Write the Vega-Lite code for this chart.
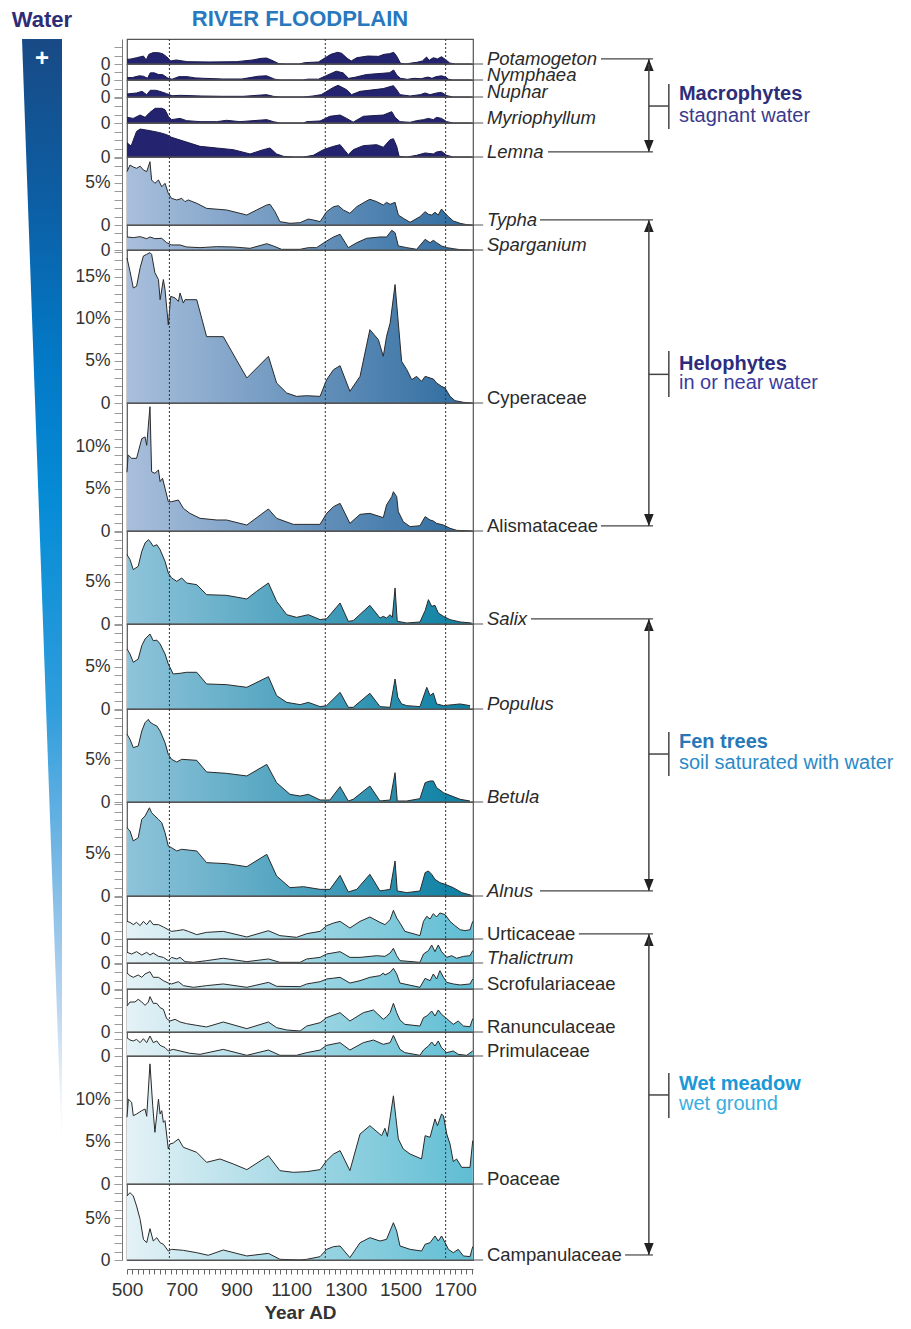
{
"$schema": "https://vega.github.io/schema/vega-lite/v6.json",
"background": "white",
"padding": {"left": 11, "top": 7, "right": 0, "bottom": 0},
"config": {
 "font": "Liberation Sans",
 "view": {"stroke": "#555", "strokeWidth": 1.2},
 "axis": {"grid": false, "labelFont": "Liberation Sans", "titleFont": "Liberation Sans"}
},
"datasets": {
 "one": [{"k": 1}],
 "zones": [{"year": 655}, {"year": 1225}, {"year": 1665}],
 "water": [{"level": 1, "amount": 1}, {"level": 0, "amount": 0}],
 "Potamogeton": [{"year":500,"pct":0.55},{"year":515,"pct":0.6},{"year":535,"pct":0.75},{"year":550,"pct":0.87},{"year":560,"pct":0.95},{"year":570,"pct":0.48},{"year":580,"pct":1.15},{"year":595,"pct":1.35},{"year":615,"pct":1.35},{"year":630,"pct":1.23},{"year":645,"pct":0.87},{"year":660,"pct":0.36},{"year":680,"pct":0.48},{"year":720,"pct":0.28},{"year":800,"pct":0.24},{"year":900,"pct":0.28},{"year":960,"pct":0.48},{"year":990,"pct":0.67},{"year":1010,"pct":0.71},{"year":1030,"pct":0.44},{"year":1055,"pct":0.04},{"year":1080,"pct":0},{"year":1130,"pct":0},{"year":1150,"pct":0.16},{"year":1200,"pct":0.24},{"year":1225,"pct":0.75},{"year":1245,"pct":1.15},{"year":1270,"pct":1.39},{"year":1285,"pct":1.27},{"year":1305,"pct":0.67},{"year":1320,"pct":0.36},{"year":1340,"pct":0.75},{"year":1380,"pct":0.95},{"year":1420,"pct":0.91},{"year":1440,"pct":1.15},{"year":1460,"pct":1.23},{"year":1475,"pct":1.39},{"year":1485,"pct":0.99},{"year":1500,"pct":0.08},{"year":1520,"pct":0},{"year":1540,"pct":0.12},{"year":1560,"pct":0.2},{"year":1580,"pct":0.36},{"year":1595,"pct":0.83},{"year":1605,"pct":0.44},{"year":1620,"pct":0.75},{"year":1635,"pct":0.6},{"year":1650,"pct":0.87},{"year":1665,"pct":0.52},{"year":1680,"pct":0.12},{"year":1700,"pct":0},{"year":1760,"pct":0}],
 "Nymphaea": [{"year":500,"pct":0.28},{"year":520,"pct":0.3},{"year":545,"pct":0.5},{"year":560,"pct":0.45},{"year":575,"pct":0.2},{"year":585,"pct":0.85},{"year":600,"pct":0.85},{"year":615,"pct":0.65},{"year":630,"pct":0.65},{"year":650,"pct":0.2},{"year":665,"pct":0.1},{"year":690,"pct":0.4},{"year":720,"pct":0.4},{"year":750,"pct":0.25},{"year":780,"pct":0.2},{"year":850,"pct":0.12},{"year":920,"pct":0.12},{"year":980,"pct":0.45},{"year":1010,"pct":0.5},{"year":1040,"pct":0.1},{"year":1060,"pct":0},{"year":1145,"pct":0},{"year":1160,"pct":0.1},{"year":1200,"pct":0.1},{"year":1230,"pct":0.55},{"year":1265,"pct":1.05},{"year":1290,"pct":0.85},{"year":1310,"pct":0.2},{"year":1330,"pct":0.3},{"year":1375,"pct":0.65},{"year":1435,"pct":0.8},{"year":1460,"pct":0.87},{"year":1475,"pct":1.19},{"year":1487,"pct":0.55},{"year":1500,"pct":0.2},{"year":1525,"pct":0.08},{"year":1550,"pct":0.2},{"year":1575,"pct":0.15},{"year":1600,"pct":0.35},{"year":1615,"pct":0.2},{"year":1630,"pct":0.4},{"year":1650,"pct":0.5},{"year":1665,"pct":0.35},{"year":1675,"pct":0.1},{"year":1690,"pct":0},{"year":1760,"pct":0}],
 "Nuphar": [{"year":500,"pct":0.36},{"year":535,"pct":0.48},{"year":555,"pct":0.67},{"year":572,"pct":0.28},{"year":585,"pct":0.8},{"year":605,"pct":0.8},{"year":620,"pct":0.67},{"year":645,"pct":0.4},{"year":665,"pct":0.15},{"year":695,"pct":0.2},{"year":770,"pct":0.12},{"year":850,"pct":0.08},{"year":925,"pct":0.08},{"year":1010,"pct":0.28},{"year":1035,"pct":0.08},{"year":1060,"pct":0},{"year":1145,"pct":0},{"year":1180,"pct":0.12},{"year":1210,"pct":0.28},{"year":1255,"pct":1.15},{"year":1272,"pct":1.39},{"year":1303,"pct":0.87},{"year":1321,"pct":0.28},{"year":1352,"pct":0.67},{"year":1437,"pct":1.0},{"year":1474,"pct":1.35},{"year":1486,"pct":0.87},{"year":1498,"pct":0.28},{"year":1535,"pct":0.12},{"year":1572,"pct":0.28},{"year":1590,"pct":0.48},{"year":1608,"pct":0.28},{"year":1632,"pct":0.48},{"year":1650,"pct":0.55},{"year":1670,"pct":0.15},{"year":1693,"pct":0},{"year":1760,"pct":0}],
 "Myriophyllum": [{"year":500,"pct":0.67},{"year":523,"pct":0.55},{"year":548,"pct":0.95},{"year":566,"pct":0.67},{"year":584,"pct":1.27},{"year":603,"pct":1.75},{"year":627,"pct":1.75},{"year":639,"pct":1.59},{"year":651,"pct":0.8},{"year":663,"pct":0.4},{"year":694,"pct":0.55},{"year":718,"pct":0.28},{"year":767,"pct":0.16},{"year":828,"pct":0.16},{"year":864,"pct":0.32},{"year":913,"pct":0.16},{"year":1011,"pct":0.4},{"year":1035,"pct":0.16},{"year":1059,"pct":0},{"year":1145,"pct":0},{"year":1157,"pct":0.16},{"year":1206,"pct":0.24},{"year":1242,"pct":0.8},{"year":1279,"pct":0.95},{"year":1303,"pct":0.55},{"year":1327,"pct":0.1},{"year":1364,"pct":0.8},{"year":1437,"pct":0.95},{"year":1468,"pct":1.35},{"year":1480,"pct":0.67},{"year":1498,"pct":0.16},{"year":1535,"pct":0.08},{"year":1559,"pct":0.28},{"year":1584,"pct":0.4},{"year":1602,"pct":0.55},{"year":1620,"pct":0.4},{"year":1632,"pct":0.67},{"year":1650,"pct":0.55},{"year":1669,"pct":0.16},{"year":1693,"pct":0},{"year":1760,"pct":0}],
 "Lemna": [{"year":500,"pct":1.7},{"year":515,"pct":1.3},{"year":535,"pct":3.05},{"year":548,"pct":3.33},{"year":585,"pct":3.13},{"year":620,"pct":2.9},{"year":645,"pct":2.66},{"year":663,"pct":2.34},{"year":706,"pct":1.9},{"year":767,"pct":1.27},{"year":828,"pct":1.07},{"year":889,"pct":0.87},{"year":950,"pct":0.36},{"year":998,"pct":0.87},{"year":1023,"pct":1.07},{"year":1047,"pct":0.36},{"year":1072,"pct":0.08},{"year":1108,"pct":0},{"year":1145,"pct":0},{"year":1181,"pct":0.2},{"year":1218,"pct":0.87},{"year":1255,"pct":1.27},{"year":1279,"pct":1.47},{"year":1309,"pct":0.28},{"year":1327,"pct":0.87},{"year":1364,"pct":1.35},{"year":1413,"pct":1.47},{"year":1437,"pct":1.15},{"year":1462,"pct":2.06},{"year":1474,"pct":2.18},{"year":1486,"pct":1.27},{"year":1495,"pct":0.08},{"year":1523,"pct":0},{"year":1559,"pct":0.2},{"year":1590,"pct":0.48},{"year":1620,"pct":0.36},{"year":1632,"pct":0.6},{"year":1650,"pct":0.68},{"year":1669,"pct":0.2},{"year":1693,"pct":0},{"year":1760,"pct":0}],
 "Typha": [{"year":500,"pct":6.35},{"year":511,"pct":7.14},{"year":523,"pct":6.9},{"year":535,"pct":6.75},{"year":548,"pct":7.0},{"year":560,"pct":6.55},{"year":572,"pct":6.35},{"year":584,"pct":7.54},{"year":590,"pct":5.36},{"year":602,"pct":4.96},{"year":615,"pct":5.36},{"year":627,"pct":4.56},{"year":639,"pct":4.96},{"year":651,"pct":3.77},{"year":663,"pct":3.17},{"year":682,"pct":2.98},{"year":700,"pct":3.17},{"year":712,"pct":2.78},{"year":724,"pct":2.98},{"year":755,"pct":2.58},{"year":791,"pct":1.98},{"year":864,"pct":1.79},{"year":938,"pct":1.19},{"year":974,"pct":1.79},{"year":1011,"pct":2.38},{"year":1023,"pct":2.46},{"year":1041,"pct":1.59},{"year":1059,"pct":0.4},{"year":1096,"pct":0.2},{"year":1133,"pct":0.28},{"year":1163,"pct":0.71},{"year":1181,"pct":0.6},{"year":1206,"pct":0.4},{"year":1230,"pct":1.59},{"year":1255,"pct":2.18},{"year":1273,"pct":2.3},{"year":1291,"pct":1.79},{"year":1315,"pct":1.39},{"year":1340,"pct":2.18},{"year":1376,"pct":2.86},{"year":1388,"pct":3.06},{"year":1413,"pct":2.78},{"year":1437,"pct":2.38},{"year":1449,"pct":2.7},{"year":1462,"pct":2.46},{"year":1480,"pct":2.7},{"year":1492,"pct":1.19},{"year":1510,"pct":0.8},{"year":1535,"pct":0.32},{"year":1571,"pct":0.99},{"year":1590,"pct":1.59},{"year":1602,"pct":1.27},{"year":1614,"pct":1.19},{"year":1626,"pct":1.51},{"year":1638,"pct":1.19},{"year":1650,"pct":1.9},{"year":1663,"pct":1.39},{"year":1675,"pct":0.99},{"year":1693,"pct":0.48},{"year":1718,"pct":0.2},{"year":1742,"pct":0.04},{"year":1760,"pct":0}],
 "Sparganium": [{"year":500,"pct":1.55},{"year":523,"pct":1.47},{"year":548,"pct":1.59},{"year":572,"pct":1.35},{"year":584,"pct":1.55},{"year":602,"pct":1.35},{"year":627,"pct":1.39},{"year":645,"pct":0.87},{"year":663,"pct":0.6},{"year":694,"pct":0.6},{"year":718,"pct":0.36},{"year":767,"pct":0.28},{"year":828,"pct":0.4},{"year":889,"pct":0.36},{"year":950,"pct":0.2},{"year":1011,"pct":0.75},{"year":1035,"pct":0.48},{"year":1065,"pct":0.08},{"year":1133,"pct":0.08},{"year":1163,"pct":0.28},{"year":1193,"pct":0.28},{"year":1230,"pct":1.07},{"year":1255,"pct":1.55},{"year":1279,"pct":1.87},{"year":1309,"pct":0.28},{"year":1340,"pct":0.87},{"year":1376,"pct":1.39},{"year":1425,"pct":1.55},{"year":1449,"pct":1.55},{"year":1468,"pct":2.34},{"year":1480,"pct":2.06},{"year":1492,"pct":0.48},{"year":1523,"pct":0.28},{"year":1559,"pct":0.08},{"year":1590,"pct":1.27},{"year":1608,"pct":0.87},{"year":1620,"pct":1.15},{"year":1632,"pct":0.87},{"year":1650,"pct":0.48},{"year":1669,"pct":0.28},{"year":1693,"pct":0.16},{"year":1718,"pct":0.04},{"year":1760,"pct":0}],
 "Cyperaceae": [{"year":500,"pct":17.26},{"year":511,"pct":15.67},{"year":523,"pct":13.7},{"year":535,"pct":13.9},{"year":548,"pct":16.1},{"year":560,"pct":17.5},{"year":572,"pct":17.7},{"year":584,"pct":17.9},{"year":590,"pct":17.7},{"year":602,"pct":15.5},{"year":615,"pct":14.7},{"year":621,"pct":12.3},{"year":633,"pct":14.7},{"year":639,"pct":13.5},{"year":651,"pct":9.3},{"year":660,"pct":12.7},{"year":676,"pct":12.5},{"year":688,"pct":12.1},{"year":694,"pct":13.1},{"year":706,"pct":11.9},{"year":712,"pct":12.3},{"year":730,"pct":12.3},{"year":755,"pct":12.3},{"year":791,"pct":7.9},{"year":852,"pct":7.9},{"year":938,"pct":2.98},{"year":1017,"pct":5.56},{"year":1047,"pct":2.38},{"year":1084,"pct":1.19},{"year":1120,"pct":0.79},{"year":1157,"pct":0.87},{"year":1206,"pct":0.79},{"year":1230,"pct":2.78},{"year":1255,"pct":3.97},{"year":1279,"pct":4.44},{"year":1315,"pct":1.39},{"year":1352,"pct":3.17},{"year":1388,"pct":8.73},{"year":1419,"pct":7.54},{"year":1437,"pct":5.56},{"year":1449,"pct":7.94},{"year":1462,"pct":9.5},{"year":1480,"pct":14.1},{"year":1492,"pct":9.5},{"year":1504,"pct":4.96},{"year":1523,"pct":3.97},{"year":1541,"pct":2.78},{"year":1559,"pct":3.17},{"year":1577,"pct":2.58},{"year":1590,"pct":3.17},{"year":1608,"pct":2.98},{"year":1620,"pct":2.86},{"year":1632,"pct":2.38},{"year":1650,"pct":1.98},{"year":1663,"pct":1.79},{"year":1681,"pct":0.79},{"year":1699,"pct":0.28},{"year":1730,"pct":0.08},{"year":1760,"pct":0}],
 "Alismataceae": [{"year":500,"pct":7.0},{"year":504,"pct":9.05},{"year":517,"pct":8.65},{"year":535,"pct":8.65},{"year":554,"pct":11.0},{"year":566,"pct":11.2},{"year":572,"pct":10.2},{"year":584,"pct":14.8},{"year":590,"pct":7.06},{"year":602,"pct":6.87},{"year":615,"pct":7.26},{"year":621,"pct":5.87},{"year":630,"pct":6.27},{"year":639,"pct":5.08},{"year":651,"pct":3.49},{"year":663,"pct":3.49},{"year":688,"pct":3.69},{"year":706,"pct":2.7},{"year":730,"pct":2.1},{"year":767,"pct":1.51},{"year":828,"pct":1.31},{"year":864,"pct":1.31},{"year":938,"pct":0.71},{"year":1017,"pct":2.62},{"year":1047,"pct":1.51},{"year":1108,"pct":0.79},{"year":1206,"pct":0.79},{"year":1230,"pct":2.1},{"year":1255,"pct":2.9},{"year":1279,"pct":3.29},{"year":1315,"pct":0.91},{"year":1352,"pct":1.98},{"year":1388,"pct":2.1},{"year":1437,"pct":1.59},{"year":1449,"pct":3.1},{"year":1468,"pct":4.09},{"year":1474,"pct":4.68},{"year":1486,"pct":4.09},{"year":1492,"pct":2.3},{"year":1510,"pct":1.11},{"year":1535,"pct":0.52},{"year":1571,"pct":0.63},{"year":1590,"pct":1.71},{"year":1608,"pct":1.31},{"year":1620,"pct":1.19},{"year":1632,"pct":0.91},{"year":1657,"pct":0.71},{"year":1681,"pct":0.32},{"year":1705,"pct":0.08},{"year":1760,"pct":0}],
 "Salix": [{"year":500,"pct":8.25},{"year":511,"pct":7.66},{"year":523,"pct":6.47},{"year":541,"pct":6.87},{"year":554,"pct":8.65},{"year":566,"pct":9.64},{"year":578,"pct":10.04},{"year":584,"pct":9.85},{"year":596,"pct":9.25},{"year":609,"pct":9.44},{"year":621,"pct":8.85},{"year":639,"pct":7.46},{"year":651,"pct":6.07},{"year":663,"pct":5.48},{"year":682,"pct":5.08},{"year":700,"pct":5.48},{"year":718,"pct":4.88},{"year":755,"pct":4.68},{"year":791,"pct":3.49},{"year":864,"pct":3.41},{"year":938,"pct":2.98},{"year":974,"pct":3.89},{"year":1017,"pct":4.88},{"year":1047,"pct":2.7},{"year":1084,"pct":1.11},{"year":1120,"pct":0.79},{"year":1163,"pct":1.11},{"year":1206,"pct":0.52},{"year":1230,"pct":0.63},{"year":1279,"pct":2.5},{"year":1309,"pct":0.32},{"year":1327,"pct":0.4},{"year":1388,"pct":2.22},{"year":1425,"pct":0.71},{"year":1437,"pct":0.91},{"year":1449,"pct":0.71},{"year":1462,"pct":1.11},{"year":1470,"pct":0.79},{"year":1480,"pct":4.29},{"year":1488,"pct":0.32},{"year":1523,"pct":0.12},{"year":1571,"pct":0.24},{"year":1590,"pct":1.59},{"year":1602,"pct":2.9},{"year":1614,"pct":2.1},{"year":1626,"pct":2.22},{"year":1638,"pct":1.31},{"year":1657,"pct":0.91},{"year":1681,"pct":0.52},{"year":1718,"pct":0.24},{"year":1760,"pct":0.12}],
 "Populus": [{"year":500,"pct":7.14},{"year":511,"pct":6.55},{"year":523,"pct":5.56},{"year":541,"pct":5.95},{"year":554,"pct":7.54},{"year":566,"pct":8.33},{"year":584,"pct":8.93},{"year":596,"pct":8.13},{"year":609,"pct":8.2},{"year":621,"pct":7.74},{"year":639,"pct":6.55},{"year":651,"pct":5.36},{"year":669,"pct":4.17},{"year":694,"pct":4.25},{"year":718,"pct":4.37},{"year":755,"pct":4.37},{"year":791,"pct":2.98},{"year":864,"pct":2.9},{"year":938,"pct":2.58},{"year":1017,"pct":3.85},{"year":1047,"pct":1.59},{"year":1084,"pct":0.79},{"year":1133,"pct":0.52},{"year":1163,"pct":0.79},{"year":1206,"pct":0.28},{"year":1230,"pct":0.4},{"year":1279,"pct":1.98},{"year":1309,"pct":0.2},{"year":1327,"pct":0.2},{"year":1388,"pct":1.87},{"year":1425,"pct":0.28},{"year":1462,"pct":0.2},{"year":1480,"pct":3.57},{"year":1490,"pct":1.39},{"year":1504,"pct":0.6},{"year":1523,"pct":0.4},{"year":1571,"pct":0.28},{"year":1596,"pct":2.58},{"year":1608,"pct":1.59},{"year":1620,"pct":1.9},{"year":1632,"pct":0.6},{"year":1657,"pct":0.4},{"year":1693,"pct":0.52},{"year":1718,"pct":0.6},{"year":1754,"pct":0.4}],
 "Betula": [{"year":500,"pct":8.06},{"year":511,"pct":7.46},{"year":523,"pct":6.47},{"year":541,"pct":6.67},{"year":554,"pct":8.45},{"year":566,"pct":9.44},{"year":578,"pct":9.84},{"year":584,"pct":9.52},{"year":596,"pct":9.25},{"year":609,"pct":9.05},{"year":621,"pct":8.45},{"year":639,"pct":7.06},{"year":651,"pct":5.67},{"year":663,"pct":5.08},{"year":682,"pct":4.76},{"year":700,"pct":5.08},{"year":755,"pct":4.96},{"year":791,"pct":3.57},{"year":864,"pct":3.41},{"year":938,"pct":3.1},{"year":1011,"pct":4.48},{"year":1047,"pct":2.3},{"year":1096,"pct":0.91},{"year":1133,"pct":0.71},{"year":1163,"pct":0.91},{"year":1206,"pct":0.24},{"year":1242,"pct":0.24},{"year":1279,"pct":1.83},{"year":1309,"pct":0.12},{"year":1327,"pct":0.32},{"year":1388,"pct":1.9},{"year":1425,"pct":0.12},{"year":1462,"pct":0.24},{"year":1480,"pct":3.49},{"year":1488,"pct":0.12},{"year":1523,"pct":0.12},{"year":1571,"pct":0.4},{"year":1590,"pct":2.3},{"year":1608,"pct":2.5},{"year":1620,"pct":2.5},{"year":1632,"pct":1.71},{"year":1657,"pct":1.11},{"year":1681,"pct":0.79},{"year":1718,"pct":0.32},{"year":1754,"pct":0.12}],
 "Alnus": [{"year":500,"pct":8.13},{"year":511,"pct":7.74},{"year":523,"pct":6.55},{"year":541,"pct":6.94},{"year":554,"pct":9.13},{"year":566,"pct":9.52},{"year":582,"pct":10.5},{"year":590,"pct":9.92},{"year":602,"pct":9.52},{"year":615,"pct":9.13},{"year":627,"pct":8.73},{"year":639,"pct":7.54},{"year":651,"pct":5.95},{"year":663,"pct":5.75},{"year":682,"pct":5.36},{"year":700,"pct":5.56},{"year":755,"pct":5.36},{"year":791,"pct":3.97},{"year":864,"pct":3.85},{"year":938,"pct":3.49},{"year":1011,"pct":4.96},{"year":1047,"pct":2.38},{"year":1096,"pct":0.99},{"year":1145,"pct":1.11},{"year":1206,"pct":0.79},{"year":1242,"pct":0.79},{"year":1279,"pct":2.46},{"year":1309,"pct":0.48},{"year":1340,"pct":0.79},{"year":1388,"pct":2.58},{"year":1425,"pct":0.6},{"year":1462,"pct":0.79},{"year":1480,"pct":4.17},{"year":1488,"pct":0.6},{"year":1523,"pct":0.4},{"year":1571,"pct":0.6},{"year":1590,"pct":2.78},{"year":1602,"pct":2.98},{"year":1614,"pct":2.58},{"year":1626,"pct":1.98},{"year":1644,"pct":1.59},{"year":1663,"pct":1.39},{"year":1693,"pct":0.99},{"year":1724,"pct":0.4},{"year":1760,"pct":0.08}],
 "Urticaceae": [{"year":500,"pct":2.1},{"year":511,"pct":1.98},{"year":523,"pct":1.71},{"year":535,"pct":1.98},{"year":548,"pct":1.59},{"year":560,"pct":2.1},{"year":572,"pct":1.71},{"year":584,"pct":2.22},{"year":596,"pct":1.71},{"year":615,"pct":1.71},{"year":633,"pct":1.43},{"year":651,"pct":1.11},{"year":663,"pct":0.91},{"year":682,"pct":0.99},{"year":706,"pct":1.11},{"year":724,"pct":0.91},{"year":755,"pct":0.52},{"year":791,"pct":0.79},{"year":852,"pct":0.91},{"year":938,"pct":0.24},{"year":1017,"pct":0.99},{"year":1059,"pct":0.4},{"year":1120,"pct":0.2},{"year":1157,"pct":0.63},{"year":1206,"pct":0.91},{"year":1230,"pct":1.59},{"year":1255,"pct":1.9},{"year":1279,"pct":2.1},{"year":1315,"pct":1.31},{"year":1352,"pct":2.1},{"year":1388,"pct":2.62},{"year":1425,"pct":1.98},{"year":1443,"pct":1.71},{"year":1462,"pct":2.3},{"year":1474,"pct":3.41},{"year":1486,"pct":2.5},{"year":1498,"pct":1.9},{"year":1516,"pct":0.91},{"year":1571,"pct":0.4},{"year":1584,"pct":2.1},{"year":1596,"pct":2.7},{"year":1608,"pct":2.38},{"year":1620,"pct":3.02},{"year":1632,"pct":2.62},{"year":1644,"pct":3.1},{"year":1663,"pct":2.9},{"year":1681,"pct":2.1},{"year":1699,"pct":1.59},{"year":1718,"pct":1.11},{"year":1736,"pct":0.99},{"year":1754,"pct":1.11},{"year":1764,"pct":2.1}],
 "Thalictrum": [{"year":500,"pct":1.27},{"year":517,"pct":1.07},{"year":535,"pct":1.35},{"year":554,"pct":0.95},{"year":572,"pct":1.27},{"year":584,"pct":0.95},{"year":596,"pct":1.19},{"year":615,"pct":0.79},{"year":633,"pct":0.67},{"year":651,"pct":0.28},{"year":663,"pct":0.67},{"year":682,"pct":0.48},{"year":694,"pct":0.67},{"year":712,"pct":0.16},{"year":743,"pct":0.08},{"year":791,"pct":0.28},{"year":852,"pct":0.56},{"year":938,"pct":0.16},{"year":1017,"pct":0.48},{"year":1059,"pct":0.08},{"year":1133,"pct":0.08},{"year":1157,"pct":0.48},{"year":1206,"pct":0.67},{"year":1230,"pct":1.07},{"year":1279,"pct":1.35},{"year":1315,"pct":0.67},{"year":1352,"pct":0.67},{"year":1413,"pct":0.87},{"year":1443,"pct":0.79},{"year":1462,"pct":1.19},{"year":1474,"pct":1.75},{"year":1486,"pct":0.87},{"year":1498,"pct":0.28},{"year":1571,"pct":0.08},{"year":1584,"pct":1.07},{"year":1602,"pct":1.47},{"year":1614,"pct":2.14},{"year":1626,"pct":1.35},{"year":1638,"pct":2.14},{"year":1650,"pct":1.35},{"year":1669,"pct":0.67},{"year":1687,"pct":0.87},{"year":1705,"pct":0.56},{"year":1730,"pct":0.79},{"year":1754,"pct":0.87},{"year":1764,"pct":1.47}],
 "Scrofulariaceae": [{"year":500,"pct":1.9},{"year":511,"pct":1.59},{"year":523,"pct":1.39},{"year":541,"pct":1.67},{"year":554,"pct":1.39},{"year":566,"pct":1.79},{"year":584,"pct":2.06},{"year":596,"pct":1.39},{"year":615,"pct":1.39},{"year":633,"pct":0.99},{"year":651,"pct":0.71},{"year":663,"pct":0.6},{"year":688,"pct":0.87},{"year":706,"pct":0.4},{"year":743,"pct":0.2},{"year":791,"pct":0.4},{"year":852,"pct":0.6},{"year":938,"pct":0.2},{"year":1017,"pct":0.79},{"year":1047,"pct":0.32},{"year":1133,"pct":0.28},{"year":1157,"pct":0.6},{"year":1206,"pct":0.87},{"year":1230,"pct":1.19},{"year":1279,"pct":1.39},{"year":1315,"pct":0.71},{"year":1352,"pct":0.99},{"year":1388,"pct":1.39},{"year":1425,"pct":1.59},{"year":1437,"pct":1.9},{"year":1443,"pct":1.67},{"year":1462,"pct":1.98},{"year":1474,"pct":2.46},{"year":1486,"pct":1.79},{"year":1498,"pct":0.71},{"year":1571,"pct":0.2},{"year":1590,"pct":1.27},{"year":1608,"pct":0.99},{"year":1620,"pct":1.79},{"year":1632,"pct":1.19},{"year":1644,"pct":2.18},{"year":1657,"pct":1.39},{"year":1669,"pct":0.79},{"year":1693,"pct":0.6},{"year":1718,"pct":0.48},{"year":1754,"pct":0.6},{"year":1764,"pct":1.19}],
 "Ranunculaceae": [{"year":500,"pct":3.1},{"year":511,"pct":3.57},{"year":529,"pct":3.57},{"year":541,"pct":3.89},{"year":554,"pct":3.57},{"year":566,"pct":3.17},{"year":578,"pct":3.57},{"year":584,"pct":4.21},{"year":596,"pct":3.41},{"year":609,"pct":3.41},{"year":621,"pct":2.9},{"year":633,"pct":2.7},{"year":645,"pct":1.59},{"year":657,"pct":1.31},{"year":676,"pct":1.51},{"year":694,"pct":1.19},{"year":718,"pct":0.99},{"year":755,"pct":0.79},{"year":791,"pct":0.6},{"year":852,"pct":1.19},{"year":938,"pct":0.4},{"year":1017,"pct":1.19},{"year":1047,"pct":0.52},{"year":1084,"pct":0.24},{"year":1133,"pct":0.12},{"year":1157,"pct":0.71},{"year":1206,"pct":1.11},{"year":1230,"pct":1.71},{"year":1279,"pct":2.3},{"year":1315,"pct":1.31},{"year":1364,"pct":2.3},{"year":1401,"pct":2.62},{"year":1437,"pct":1.51},{"year":1449,"pct":1.82},{"year":1462,"pct":2.3},{"year":1474,"pct":3.41},{"year":1486,"pct":2.3},{"year":1498,"pct":1.43},{"year":1516,"pct":0.91},{"year":1571,"pct":0.71},{"year":1584,"pct":1.71},{"year":1596,"pct":1.9},{"year":1614,"pct":2.5},{"year":1626,"pct":1.9},{"year":1638,"pct":2.62},{"year":1650,"pct":2.1},{"year":1669,"pct":1.59},{"year":1693,"pct":0.91},{"year":1711,"pct":1.31},{"year":1730,"pct":0.71},{"year":1754,"pct":0.63},{"year":1764,"pct":1.59}],
 "Primulaceae": [{"year":500,"pct":2.18},{"year":511,"pct":1.9},{"year":523,"pct":1.79},{"year":535,"pct":1.98},{"year":548,"pct":1.59},{"year":560,"pct":2.06},{"year":572,"pct":1.59},{"year":584,"pct":2.38},{"year":596,"pct":1.59},{"year":609,"pct":1.79},{"year":621,"pct":1.27},{"year":639,"pct":1.0},{"year":651,"pct":0.6},{"year":669,"pct":0.79},{"year":694,"pct":0.6},{"year":730,"pct":0.32},{"year":767,"pct":0.2},{"year":852,"pct":0.79},{"year":938,"pct":0.08},{"year":1017,"pct":0.71},{"year":1059,"pct":0.08},{"year":1120,"pct":0.08},{"year":1157,"pct":0.4},{"year":1206,"pct":0.71},{"year":1230,"pct":1.27},{"year":1279,"pct":1.59},{"year":1315,"pct":0.71},{"year":1364,"pct":1.59},{"year":1401,"pct":1.9},{"year":1437,"pct":1.39},{"year":1462,"pct":1.59},{"year":1474,"pct":2.46},{"year":1486,"pct":1.59},{"year":1498,"pct":0.79},{"year":1516,"pct":0.4},{"year":1571,"pct":0.08},{"year":1584,"pct":0.71},{"year":1602,"pct":1.19},{"year":1614,"pct":1.67},{"year":1626,"pct":1.19},{"year":1638,"pct":1.79},{"year":1650,"pct":0.99},{"year":1669,"pct":0.4},{"year":1693,"pct":0.6},{"year":1711,"pct":0.2},{"year":1742,"pct":0.08},{"year":1764,"pct":0.6}],
 "Poaceae": [{"year":500,"pct":7.94},{"year":505,"pct":10.1},{"year":517,"pct":9.72},{"year":523,"pct":8.13},{"year":535,"pct":8.33},{"year":554,"pct":8.73},{"year":566,"pct":8.93},{"year":572,"pct":8.06},{"year":584,"pct":14.3},{"year":594,"pct":9.33},{"year":602,"pct":6.15},{"year":615,"pct":10.1},{"year":621,"pct":8.33},{"year":627,"pct":8.73},{"year":633,"pct":7.34},{"year":639,"pct":7.54},{"year":651,"pct":4.17},{"year":657,"pct":4.76},{"year":669,"pct":4.88},{"year":688,"pct":5.36},{"year":706,"pct":4.37},{"year":755,"pct":3.77},{"year":791,"pct":2.58},{"year":840,"pct":2.98},{"year":889,"pct":2.38},{"year":938,"pct":1.71},{"year":1017,"pct":3.37},{"year":1059,"pct":1.59},{"year":1108,"pct":1.39},{"year":1157,"pct":1.47},{"year":1206,"pct":1.71},{"year":1230,"pct":2.78},{"year":1255,"pct":3.57},{"year":1279,"pct":3.97},{"year":1315,"pct":1.59},{"year":1352,"pct":5.95},{"year":1388,"pct":6.94},{"year":1431,"pct":5.75},{"year":1443,"pct":6.63},{"year":1452,"pct":5.67},{"year":1474,"pct":10.5},{"year":1492,"pct":5.36},{"year":1510,"pct":4.17},{"year":1535,"pct":3.57},{"year":1577,"pct":2.98},{"year":1590,"pct":5.75},{"year":1608,"pct":5.56},{"year":1626,"pct":7.74},{"year":1635,"pct":6.94},{"year":1650,"pct":8.33},{"year":1657,"pct":8.13},{"year":1669,"pct":5.95},{"year":1681,"pct":4.76},{"year":1693,"pct":2.66},{"year":1705,"pct":2.98},{"year":1724,"pct":1.98},{"year":1754,"pct":1.98},{"year":1764,"pct":5.16}],
 "Campanulaceae": [{"year":500,"pct":7.62},{"year":511,"pct":8.02},{"year":523,"pct":7.62},{"year":535,"pct":6.43},{"year":548,"pct":4.84},{"year":560,"pct":2.46},{"year":572,"pct":2.06},{"year":584,"pct":3.73},{"year":596,"pct":2.26},{"year":609,"pct":2.66},{"year":621,"pct":2.06},{"year":633,"pct":1.87},{"year":651,"pct":1.07},{"year":663,"pct":1.27},{"year":706,"pct":1.15},{"year":755,"pct":0.87},{"year":797,"pct":0.56},{"year":852,"pct":1.19},{"year":938,"pct":0.48},{"year":1017,"pct":0.79},{"year":1059,"pct":0.08},{"year":1133,"pct":0},{"year":1157,"pct":0.08},{"year":1206,"pct":0.4},{"year":1230,"pct":1.27},{"year":1255,"pct":1.59},{"year":1279,"pct":1.67},{"year":1315,"pct":0.28},{"year":1352,"pct":2.06},{"year":1388,"pct":2.66},{"year":1425,"pct":2.26},{"year":1449,"pct":2.46},{"year":1474,"pct":4.44},{"year":1486,"pct":3.45},{"year":1498,"pct":1.67},{"year":1535,"pct":1.27},{"year":1577,"pct":1.07},{"year":1590,"pct":1.87},{"year":1608,"pct":2.06},{"year":1626,"pct":2.86},{"year":1638,"pct":2.26},{"year":1650,"pct":2.86},{"year":1663,"pct":2.06},{"year":1675,"pct":1.27},{"year":1693,"pct":0.87},{"year":1711,"pct":1.27},{"year":1730,"pct":0.48},{"year":1754,"pct":0.4},{"year":1764,"pct":1.59}]
},
"spacing": 1,
"hconcat": [
 {
  "width": 40, "height": 1113,
  "title": {"text": "Water", "fontSize": 22, "fontWeight": "bold", "color": "#2d2d78", "frame": "group", "anchor": "middle", "offset": 7},
  "view": {"stroke": null},
  "layer": [
   {"data": {"name": "water"}, "mark": {"type": "area", "orient": "horizontal", "opacity": 1, "color": {"gradient": "linear", "x1": 0, "y1": 0, "x2": 0, "y2": 1, "stops": [{"offset": 0, "color": "#184a85"}, {"offset": 0.15, "color": "#0c5fa5"}, {"offset": 0.28, "color": "#0378c5"}, {"offset": 0.42, "color": "#068cd6"}, {"offset": 0.6, "color": "#2f9ddc"}, {"offset": 0.73, "color": "#72b6e4"}, {"offset": 0.87, "color": "#bcd6ef"}, {"offset": 0.96, "color": "#f4f8fc"}, {"offset": 1, "color": "#ffffff"}]}},
    "encoding": {"y": {"field": "level", "type": "quantitative", "scale": {"domain": [0, 1], "nice": false}, "axis": null}, "x": {"field": "amount", "type": "quantitative", "scale": {"domain": [0, 1], "reverse": true, "nice": false}, "axis": null}}},
   {"data": {"name": "one"}, "mark": {"type": "text", "text": "+", "color": "white", "fontSize": 24, "fontWeight": "bold", "baseline": "middle", "align": "center"}, "encoding": {"x": {"datum": 0.5}, "y": {"datum": 0.982}}}
  ]
 },
 {
  "spacing": 0,
  "bounds": "flush",
  "resolve": {"scale": {"x": "independent", "y": "independent"}},
  "vconcat": [
   {"width": 346, "height": 25,
    "title": {"text": "RIVER FLOODPLAIN", "fontSize": 22, "fontWeight": "bold", "color": "#2878be", "frame": "group", "anchor": "middle", "offset": 7},
    "layer": [
     {"data": {"name": "Potamogeton"}, "mark": {"type": "area", "opacity": 1, "color": "#23236f", "line": {"color": "#1a1a4a", "strokeWidth": 1}}, "encoding": {"x": {"field": "year", "type": "quantitative", "scale": {"domain": [500, 1765], "nice": false, "zero": false}, "axis": null}, "y": {"field": "pct", "type": "quantitative", "scale": {"domain": [0, 2.976], "nice": false}, "axis": {"values": [0, 1, 2], "tickCount": 200, "labelExpr": "datum.value == 0 ? '0' : ''", "title": null, "labelOverlap": false, "labelFontSize": 17.5, "labelColor": "#333", "tickSize": 8, "tickColor": "#9a9a9a", "domainColor": "#777", "offset": 5, "labelPadding": 4, "grid": false}}}},
     {"data": {"name": "zones"}, "mark": {"type": "rule", "color": "#333", "strokeDash": [2, 2], "strokeWidth": 1}, "encoding": {"x": {"field": "year", "type": "quantitative"}}},
     {"data": {"name": "one"}, "mark": {"type": "rule", "color": "#555", "strokeWidth": 1.2}, "encoding": {"x": {"datum": 500}, "x2": {"datum": 1802}, "y": {"datum": 0}}},
     {"data": {"name": "one"}, "mark": {"type": "text", "text": "Potamogeton", "align": "left", "baseline": "alphabetic", "dy": 1, "fontSize": 18.5, "fontStyle": "italic", "color": "#2a2a2a"}, "encoding": {"x": {"datum": 1816}, "y": {"datum": 0}}},
     {"data": {"name": "one"}, "mark": {"type": "rule", "color": "#444", "strokeWidth": 1.2}, "encoding": {"x": {"datum": 2233}, "x2": {"datum": 2423}, "y": {"datum": 0.6}}},
     {"data": {"name": "one"}, "mark": {"type": "rule", "color": "#444", "strokeWidth": 1.5}, "encoding": {"x": {"datum": 2408}, "y": {"datum": 0.6}, "y2": {"datum": 0}}},
     {"data": {"name": "one"}, "mark": {"type": "point", "shape": "M0,-1L0.8,1L-0.8,1Z", "filled": true, "size": 144, "color": "#222", "opacity": 1}, "encoding": {"x": {"datum": 2408}, "y": {"datum": -0.11}}}
    ]},
   {"width": 346, "height": 16,
    "layer": [
     {"data": {"name": "Nymphaea"}, "mark": {"type": "area", "opacity": 1, "color": "#23236f", "line": {"color": "#1a1a4a", "strokeWidth": 1}}, "encoding": {"x": {"field": "year", "type": "quantitative", "scale": {"domain": [500, 1765], "nice": false, "zero": false}, "axis": null}, "y": {"field": "pct", "type": "quantitative", "scale": {"domain": [0, 1.905], "nice": false}, "axis": {"values": [0, 1], "tickCount": 200, "labelExpr": "datum.value == 0 ? '0' : ''", "title": null, "labelOverlap": false, "labelFontSize": 17.5, "labelColor": "#333", "tickSize": 8, "tickColor": "#9a9a9a", "domainColor": "#777", "offset": 5, "labelPadding": 4, "grid": false}}}},
     {"data": {"name": "zones"}, "mark": {"type": "rule", "color": "#333", "strokeDash": [2, 2], "strokeWidth": 1}, "encoding": {"x": {"field": "year", "type": "quantitative"}}},
     {"data": {"name": "one"}, "mark": {"type": "rule", "color": "#555", "strokeWidth": 1.2}, "encoding": {"x": {"datum": 500}, "x2": {"datum": 1802}, "y": {"datum": 0}}},
     {"data": {"name": "one"}, "mark": {"type": "text", "text": "Nymphaea", "align": "left", "baseline": "alphabetic", "dy": 1, "fontSize": 18.5, "fontStyle": "italic", "color": "#2a2a2a"}, "encoding": {"x": {"datum": 1816}, "y": {"datum": 0}}},
     {"data": {"name": "one"}, "mark": {"type": "rule", "color": "#444", "strokeWidth": 1.5}, "encoding": {"x": {"datum": 2408}}}
    ]},
   {"width": 346, "height": 17,
    "layer": [
     {"data": {"name": "Nuphar"}, "mark": {"type": "area", "opacity": 1, "color": "#23236f", "line": {"color": "#1a1a4a", "strokeWidth": 1}}, "encoding": {"x": {"field": "year", "type": "quantitative", "scale": {"domain": [500, 1765], "nice": false, "zero": false}, "axis": null}, "y": {"field": "pct", "type": "quantitative", "scale": {"domain": [0, 2.024], "nice": false}, "axis": {"values": [0, 1, 2], "tickCount": 200, "labelExpr": "datum.value == 0 ? '0' : ''", "title": null, "labelOverlap": false, "labelFontSize": 17.5, "labelColor": "#333", "tickSize": 8, "tickColor": "#9a9a9a", "domainColor": "#777", "offset": 5, "labelPadding": 4, "grid": false}}}},
     {"data": {"name": "zones"}, "mark": {"type": "rule", "color": "#333", "strokeDash": [2, 2], "strokeWidth": 1}, "encoding": {"x": {"field": "year", "type": "quantitative"}}},
     {"data": {"name": "one"}, "mark": {"type": "rule", "color": "#555", "strokeWidth": 1.2}, "encoding": {"x": {"datum": 500}, "x2": {"datum": 1802}, "y": {"datum": 0}}},
     {"data": {"name": "one"}, "mark": {"type": "text", "text": "Nuphar", "align": "left", "baseline": "alphabetic", "dy": 1, "fontSize": 18.5, "fontStyle": "italic", "color": "#2a2a2a"}, "encoding": {"x": {"datum": 1816}, "y": {"datum": 0}}},
     {"data": {"name": "one"}, "mark": {"type": "rule", "color": "#444", "strokeWidth": 1.5}, "encoding": {"x": {"datum": 2408}}}
    ]},
   {"width": 346, "height": 26,
    "layer": [
     {"data": {"name": "Myriophyllum"}, "mark": {"type": "area", "opacity": 1, "color": "#23236f", "line": {"color": "#1a1a4a", "strokeWidth": 1}}, "encoding": {"x": {"field": "year", "type": "quantitative", "scale": {"domain": [500, 1765], "nice": false, "zero": false}, "axis": null}, "y": {"field": "pct", "type": "quantitative", "scale": {"domain": [0, 3.095], "nice": false}, "axis": {"values": [0, 1, 2, 3], "tickCount": 200, "labelExpr": "datum.value == 0 ? '0' : ''", "title": null, "labelOverlap": false, "labelFontSize": 17.5, "labelColor": "#333", "tickSize": 8, "tickColor": "#9a9a9a", "domainColor": "#777", "offset": 5, "labelPadding": 4, "grid": false}}}},
     {"data": {"name": "zones"}, "mark": {"type": "rule", "color": "#333", "strokeDash": [2, 2], "strokeWidth": 1}, "encoding": {"x": {"field": "year", "type": "quantitative"}}},
     {"data": {"name": "one"}, "mark": {"type": "rule", "color": "#555", "strokeWidth": 1.2}, "encoding": {"x": {"datum": 500}, "x2": {"datum": 1802}, "y": {"datum": 0}}},
     {"data": {"name": "one"}, "mark": {"type": "text", "text": "Myriophyllum", "align": "left", "baseline": "alphabetic", "dy": 1, "fontSize": 18.5, "fontStyle": "italic", "color": "#2a2a2a"}, "encoding": {"x": {"datum": 1816}, "y": {"datum": 0}}},
     {"data": {"name": "one"}, "mark": {"type": "rule", "color": "#444", "strokeWidth": 1.5}, "encoding": {"x": {"datum": 2408}}},
     {"data": {"name": "one"}, "mark": {"type": "rule", "color": "#444", "strokeWidth": 1.5}, "encoding": {"x": {"datum": 2408}, "x2": {"datum": 2481}, "y": {"datum": 2.02}}},
     {"data": {"name": "one"}, "mark": {"type": "rule", "color": "#444", "strokeWidth": 1.5}, "encoding": {"x": {"datum": 2481}, "y": {"datum": 4.64}, "y2": {"datum": -0.71}}},
     {"data": {"name": "one"}, "mark": {"type": "text", "text": "Macrophytes", "align": "left", "baseline": "middle", "fontSize": 20, "fontWeight": "bold", "color": "#2d2d78"}, "encoding": {"x": {"datum": 2518}, "y": {"datum": 3.45}}},
     {"data": {"name": "one"}, "mark": {"type": "text", "text": "stagnant water", "align": "left", "baseline": "middle", "fontSize": 20, "color": "#3a3a8c"}, "encoding": {"x": {"datum": 2518}, "y": {"datum": 0.83}}}
    ]},
   {"width": 346, "height": 34,
    "layer": [
     {"data": {"name": "Lemna"}, "mark": {"type": "area", "opacity": 1, "color": "#23236f", "line": {"color": "#1a1a4a", "strokeWidth": 1}}, "encoding": {"x": {"field": "year", "type": "quantitative", "scale": {"domain": [500, 1765], "nice": false, "zero": false}, "axis": null}, "y": {"field": "pct", "type": "quantitative", "scale": {"domain": [0, 4.048], "nice": false}, "axis": {"values": [0, 1, 2, 3, 4], "tickCount": 200, "labelExpr": "datum.value == 0 ? '0' : ''", "title": null, "labelOverlap": false, "labelFontSize": 17.5, "labelColor": "#333", "tickSize": 8, "tickColor": "#9a9a9a", "domainColor": "#777", "offset": 5, "labelPadding": 4, "grid": false}}}},
     {"data": {"name": "zones"}, "mark": {"type": "rule", "color": "#333", "strokeDash": [2, 2], "strokeWidth": 1}, "encoding": {"x": {"field": "year", "type": "quantitative"}}},
     {"data": {"name": "one"}, "mark": {"type": "rule", "color": "#555", "strokeWidth": 1.2}, "encoding": {"x": {"datum": 500}, "x2": {"datum": 1802}, "y": {"datum": 0}}},
     {"data": {"name": "one"}, "mark": {"type": "text", "text": "Lemna", "align": "left", "baseline": "alphabetic", "dy": 1, "fontSize": 18.5, "fontStyle": "italic", "color": "#2a2a2a"}, "encoding": {"x": {"datum": 1816}, "y": {"datum": 0}}},
     {"data": {"name": "one"}, "mark": {"type": "rule", "color": "#444", "strokeWidth": 1.2}, "encoding": {"x": {"datum": 2039}, "x2": {"datum": 2423}, "y": {"datum": 0.6}}},
     {"data": {"name": "one"}, "mark": {"type": "rule", "color": "#444", "strokeWidth": 1.5}, "encoding": {"x": {"datum": 2408}, "y": {"datum": 4.048}, "y2": {"datum": 0.6}}},
     {"data": {"name": "one"}, "mark": {"type": "point", "shape": "M0,1L0.8,-1L-0.8,-1Z", "filled": true, "size": 144, "color": "#222", "opacity": 1}, "encoding": {"x": {"datum": 2408}, "y": {"datum": 1.31}}}
    ]},
   {"width": 346, "height": 68,
    "layer": [
     {"data": {"name": "Typha"}, "mark": {"type": "area", "opacity": 1, "color": {"gradient": "linear", "x1": 0, "y1": 0, "x2": 1, "y2": 0, "stops": [{"offset": 0, "color": "#a9bfdc"}, {"offset": 1, "color": "#2d6b9f"}]}, "line": {"color": "#2a2a2a", "strokeWidth": 1}}, "encoding": {"x": {"field": "year", "type": "quantitative", "scale": {"domain": [500, 1765], "nice": false, "zero": false}, "axis": null}, "y": {"field": "pct", "type": "quantitative", "scale": {"domain": [0, 8.095], "nice": false}, "axis": {"values": [0, 1, 2, 3, 4, 5, 6, 7, 8], "tickCount": 200, "labelExpr": "datum.value == 0 ? '0' : datum.value == 5 ? '5%' : ''", "title": null, "labelOverlap": false, "labelFontSize": 17.5, "labelColor": "#333", "tickSize": 8, "tickColor": "#9a9a9a", "domainColor": "#777", "offset": 5, "labelPadding": 4, "grid": false}}}},
     {"data": {"name": "zones"}, "mark": {"type": "rule", "color": "#333", "strokeDash": [2, 2], "strokeWidth": 1}, "encoding": {"x": {"field": "year", "type": "quantitative"}}},
     {"data": {"name": "one"}, "mark": {"type": "rule", "color": "#555", "strokeWidth": 1.2}, "encoding": {"x": {"datum": 500}, "x2": {"datum": 1802}, "y": {"datum": 0}}},
     {"data": {"name": "one"}, "mark": {"type": "text", "text": "Typha", "align": "left", "baseline": "alphabetic", "dy": 1, "fontSize": 18.5, "fontStyle": "italic", "color": "#2a2a2a"}, "encoding": {"x": {"datum": 1816}, "y": {"datum": 0}}},
     {"data": {"name": "one"}, "mark": {"type": "rule", "color": "#444", "strokeWidth": 1.2}, "encoding": {"x": {"datum": 2010}, "x2": {"datum": 2423}, "y": {"datum": 0.6}}},
     {"data": {"name": "one"}, "mark": {"type": "rule", "color": "#444", "strokeWidth": 1.5}, "encoding": {"x": {"datum": 2408}, "y": {"datum": 0.6}, "y2": {"datum": 0}}},
     {"data": {"name": "one"}, "mark": {"type": "point", "shape": "M0,-1L0.8,1L-0.8,1Z", "filled": true, "size": 144, "color": "#222", "opacity": 1}, "encoding": {"x": {"datum": 2408}, "y": {"datum": -0.11}}}
    ]},
   {"width": 346, "height": 25,
    "layer": [
     {"data": {"name": "Sparganium"}, "mark": {"type": "area", "opacity": 1, "color": {"gradient": "linear", "x1": 0, "y1": 0, "x2": 1, "y2": 0, "stops": [{"offset": 0, "color": "#a9bfdc"}, {"offset": 1, "color": "#2d6b9f"}]}, "line": {"color": "#2a2a2a", "strokeWidth": 1}}, "encoding": {"x": {"field": "year", "type": "quantitative", "scale": {"domain": [500, 1765], "nice": false, "zero": false}, "axis": null}, "y": {"field": "pct", "type": "quantitative", "scale": {"domain": [0, 2.976], "nice": false}, "axis": {"values": [0, 1, 2], "tickCount": 200, "labelExpr": "datum.value == 0 ? '0' : ''", "title": null, "labelOverlap": false, "labelFontSize": 17.5, "labelColor": "#333", "tickSize": 8, "tickColor": "#9a9a9a", "domainColor": "#777", "offset": 5, "labelPadding": 4, "grid": false}}}},
     {"data": {"name": "zones"}, "mark": {"type": "rule", "color": "#333", "strokeDash": [2, 2], "strokeWidth": 1}, "encoding": {"x": {"field": "year", "type": "quantitative"}}},
     {"data": {"name": "one"}, "mark": {"type": "rule", "color": "#555", "strokeWidth": 1.2}, "encoding": {"x": {"datum": 500}, "x2": {"datum": 1802}, "y": {"datum": 0}}},
     {"data": {"name": "one"}, "mark": {"type": "text", "text": "Sparganium", "align": "left", "baseline": "alphabetic", "dy": 1, "fontSize": 18.5, "fontStyle": "italic", "color": "#2a2a2a"}, "encoding": {"x": {"datum": 1816}, "y": {"datum": 0}}},
     {"data": {"name": "one"}, "mark": {"type": "rule", "color": "#444", "strokeWidth": 1.5}, "encoding": {"x": {"datum": 2408}}}
    ]},
   {"width": 346, "height": 153,
    "layer": [
     {"data": {"name": "Cyperaceae"}, "mark": {"type": "area", "opacity": 1, "color": {"gradient": "linear", "x1": 0, "y1": 0, "x2": 1, "y2": 0, "stops": [{"offset": 0, "color": "#a9bfdc"}, {"offset": 1, "color": "#2d6b9f"}]}, "line": {"color": "#2a2a2a", "strokeWidth": 1}}, "encoding": {"x": {"field": "year", "type": "quantitative", "scale": {"domain": [500, 1765], "nice": false, "zero": false}, "axis": null}, "y": {"field": "pct", "type": "quantitative", "scale": {"domain": [0, 18.214], "nice": false}, "axis": {"values": [0, 1, 2, 3, 4, 5, 6, 7, 8, 9, 10, 11, 12, 13, 14, 15, 16, 17, 18], "tickCount": 200, "labelExpr": "datum.value == 0 ? '0' : datum.value % 5 == 0 ? datum.value + '%' : ''", "title": null, "labelOverlap": false, "labelFontSize": 17.5, "labelColor": "#333", "tickSize": 8, "tickColor": "#9a9a9a", "domainColor": "#777", "offset": 5, "labelPadding": 4, "grid": false}}}},
     {"data": {"name": "zones"}, "mark": {"type": "rule", "color": "#333", "strokeDash": [2, 2], "strokeWidth": 1}, "encoding": {"x": {"field": "year", "type": "quantitative"}}},
     {"data": {"name": "one"}, "mark": {"type": "rule", "color": "#555", "strokeWidth": 1.2}, "encoding": {"x": {"datum": 500}, "x2": {"datum": 1802}, "y": {"datum": 0}}},
     {"data": {"name": "one"}, "mark": {"type": "text", "text": "Cyperaceae", "align": "left", "baseline": "alphabetic", "dy": 1, "fontSize": 18.5, "color": "#2a2a2a"}, "encoding": {"x": {"datum": 1816}, "y": {"datum": 0}}},
     {"data": {"name": "one"}, "mark": {"type": "rule", "color": "#444", "strokeWidth": 1.5}, "encoding": {"x": {"datum": 2408}}},
     {"data": {"name": "one"}, "mark": {"type": "rule", "color": "#444", "strokeWidth": 1.5}, "encoding": {"x": {"datum": 2408}, "x2": {"datum": 2481}, "y": {"datum": 3.41}}},
     {"data": {"name": "one"}, "mark": {"type": "rule", "color": "#444", "strokeWidth": 1.5}, "encoding": {"x": {"datum": 2481}, "y": {"datum": 6.19}, "y2": {"datum": 0.71}}},
     {"data": {"name": "one"}, "mark": {"type": "text", "text": "Helophytes", "align": "left", "baseline": "middle", "fontSize": 20, "fontWeight": "bold", "color": "#2d2d80"}, "encoding": {"x": {"datum": 2518}, "y": {"datum": 4.68}}},
     {"data": {"name": "one"}, "mark": {"type": "text", "text": "in or near water", "align": "left", "baseline": "middle", "fontSize": 20, "color": "#3b3b9e"}, "encoding": {"x": {"datum": 2518}, "y": {"datum": 2.42}}}
    ]},
   {"width": 346, "height": 128,
    "layer": [
     {"data": {"name": "Alismataceae"}, "mark": {"type": "area", "opacity": 1, "color": {"gradient": "linear", "x1": 0, "y1": 0, "x2": 1, "y2": 0, "stops": [{"offset": 0, "color": "#a9bfdc"}, {"offset": 1, "color": "#2d6b9f"}]}, "line": {"color": "#2a2a2a", "strokeWidth": 1}}, "encoding": {"x": {"field": "year", "type": "quantitative", "scale": {"domain": [500, 1765], "nice": false, "zero": false}, "axis": null}, "y": {"field": "pct", "type": "quantitative", "scale": {"domain": [0, 15.238], "nice": false}, "axis": {"values": [0, 1, 2, 3, 4, 5, 6, 7, 8, 9, 10, 11, 12, 13, 14], "tickCount": 200, "labelExpr": "datum.value == 0 ? '0' : datum.value % 5 == 0 ? datum.value + '%' : ''", "title": null, "labelOverlap": false, "labelFontSize": 17.5, "labelColor": "#333", "tickSize": 8, "tickColor": "#9a9a9a", "domainColor": "#777", "offset": 5, "labelPadding": 4, "grid": false}}}},
     {"data": {"name": "zones"}, "mark": {"type": "rule", "color": "#333", "strokeDash": [2, 2], "strokeWidth": 1}, "encoding": {"x": {"field": "year", "type": "quantitative"}}},
     {"data": {"name": "one"}, "mark": {"type": "rule", "color": "#555", "strokeWidth": 1.2}, "encoding": {"x": {"datum": 500}, "x2": {"datum": 1802}, "y": {"datum": 0}}},
     {"data": {"name": "one"}, "mark": {"type": "text", "text": "Alismataceae", "align": "left", "baseline": "alphabetic", "dy": 1, "fontSize": 18.5, "color": "#2a2a2a"}, "encoding": {"x": {"datum": 1816}, "y": {"datum": 0}}},
     {"data": {"name": "one"}, "mark": {"type": "rule", "color": "#444", "strokeWidth": 1.2}, "encoding": {"x": {"datum": 2233}, "x2": {"datum": 2423}, "y": {"datum": 0.6}}},
     {"data": {"name": "one"}, "mark": {"type": "rule", "color": "#444", "strokeWidth": 1.5}, "encoding": {"x": {"datum": 2408}, "y": {"datum": 15.238}, "y2": {"datum": 0.6}}},
     {"data": {"name": "one"}, "mark": {"type": "point", "shape": "M0,1L0.8,-1L-0.8,-1Z", "filled": true, "size": 144, "color": "#222", "opacity": 1}, "encoding": {"x": {"datum": 2408}, "y": {"datum": 1.31}}}
    ]},
   {"width": 346, "height": 93,
    "layer": [
     {"data": {"name": "Salix"}, "mark": {"type": "area", "opacity": 1, "color": {"gradient": "linear", "x1": 0, "y1": 0, "x2": 1, "y2": 0, "stops": [{"offset": 0, "color": "#8fc4da"}, {"offset": 1, "color": "#0a7fa2"}]}, "line": {"color": "#2a2a2a", "strokeWidth": 1}}, "encoding": {"x": {"field": "year", "type": "quantitative", "scale": {"domain": [500, 1765], "nice": false, "zero": false}, "axis": null}, "y": {"field": "pct", "type": "quantitative", "scale": {"domain": [0, 11.071], "nice": false}, "axis": {"values": [0, 1, 2, 3, 4, 5, 6, 7, 8, 9, 10, 11], "tickCount": 200, "labelExpr": "datum.value == 0 ? '0' : datum.value == 5 ? '5%' : ''", "title": null, "labelOverlap": false, "labelFontSize": 17.5, "labelColor": "#333", "tickSize": 8, "tickColor": "#9a9a9a", "domainColor": "#777", "offset": 5, "labelPadding": 4, "grid": false}}}},
     {"data": {"name": "zones"}, "mark": {"type": "rule", "color": "#333", "strokeDash": [2, 2], "strokeWidth": 1}, "encoding": {"x": {"field": "year", "type": "quantitative"}}},
     {"data": {"name": "one"}, "mark": {"type": "rule", "color": "#555", "strokeWidth": 1.2}, "encoding": {"x": {"datum": 500}, "x2": {"datum": 1802}, "y": {"datum": 0}}},
     {"data": {"name": "one"}, "mark": {"type": "text", "text": "Salix", "align": "left", "baseline": "alphabetic", "dy": 1, "fontSize": 18.5, "fontStyle": "italic", "color": "#2a2a2a"}, "encoding": {"x": {"datum": 1816}, "y": {"datum": 0}}},
     {"data": {"name": "one"}, "mark": {"type": "rule", "color": "#444", "strokeWidth": 1.2}, "encoding": {"x": {"datum": 1977}, "x2": {"datum": 2423}, "y": {"datum": 0.6}}},
     {"data": {"name": "one"}, "mark": {"type": "rule", "color": "#444", "strokeWidth": 1.5}, "encoding": {"x": {"datum": 2408}, "y": {"datum": 0.6}, "y2": {"datum": 0}}},
     {"data": {"name": "one"}, "mark": {"type": "point", "shape": "M0,-1L0.8,1L-0.8,1Z", "filled": true, "size": 144, "color": "#222", "opacity": 1}, "encoding": {"x": {"datum": 2408}, "y": {"datum": -0.11}}}
    ]},
   {"width": 346, "height": 85,
    "layer": [
     {"data": {"name": "Populus"}, "mark": {"type": "area", "opacity": 1, "color": {"gradient": "linear", "x1": 0, "y1": 0, "x2": 1, "y2": 0, "stops": [{"offset": 0, "color": "#8fc4da"}, {"offset": 1, "color": "#0a7fa2"}]}, "line": {"color": "#2a2a2a", "strokeWidth": 1}}, "encoding": {"x": {"field": "year", "type": "quantitative", "scale": {"domain": [500, 1765], "nice": false, "zero": false}, "axis": null}, "y": {"field": "pct", "type": "quantitative", "scale": {"domain": [0, 10.119], "nice": false}, "axis": {"values": [0, 1, 2, 3, 4, 5, 6, 7, 8, 9, 10], "tickCount": 200, "labelExpr": "datum.value == 0 ? '0' : datum.value == 5 ? '5%' : ''", "title": null, "labelOverlap": false, "labelFontSize": 17.5, "labelColor": "#333", "tickSize": 8, "tickColor": "#9a9a9a", "domainColor": "#777", "offset": 5, "labelPadding": 4, "grid": false}}}},
     {"data": {"name": "zones"}, "mark": {"type": "rule", "color": "#333", "strokeDash": [2, 2], "strokeWidth": 1}, "encoding": {"x": {"field": "year", "type": "quantitative"}}},
     {"data": {"name": "one"}, "mark": {"type": "rule", "color": "#555", "strokeWidth": 1.2}, "encoding": {"x": {"datum": 500}, "x2": {"datum": 1802}, "y": {"datum": 0}}},
     {"data": {"name": "one"}, "mark": {"type": "text", "text": "Populus", "align": "left", "baseline": "alphabetic", "dy": 1, "fontSize": 18.5, "fontStyle": "italic", "color": "#2a2a2a"}, "encoding": {"x": {"datum": 1816}, "y": {"datum": 0}}},
     {"data": {"name": "one"}, "mark": {"type": "rule", "color": "#444", "strokeWidth": 1.5}, "encoding": {"x": {"datum": 2408}}}
    ]},
   {"width": 346, "height": 93,
    "layer": [
     {"data": {"name": "Betula"}, "mark": {"type": "area", "opacity": 1, "color": {"gradient": "linear", "x1": 0, "y1": 0, "x2": 1, "y2": 0, "stops": [{"offset": 0, "color": "#8fc4da"}, {"offset": 1, "color": "#0a7fa2"}]}, "line": {"color": "#2a2a2a", "strokeWidth": 1}}, "encoding": {"x": {"field": "year", "type": "quantitative", "scale": {"domain": [500, 1765], "nice": false, "zero": false}, "axis": null}, "y": {"field": "pct", "type": "quantitative", "scale": {"domain": [0, 11.071], "nice": false}, "axis": {"values": [0, 1, 2, 3, 4, 5, 6, 7, 8, 9, 10, 11], "tickCount": 200, "labelExpr": "datum.value == 0 ? '0' : datum.value == 5 ? '5%' : ''", "title": null, "labelOverlap": false, "labelFontSize": 17.5, "labelColor": "#333", "tickSize": 8, "tickColor": "#9a9a9a", "domainColor": "#777", "offset": 5, "labelPadding": 4, "grid": false}}}},
     {"data": {"name": "zones"}, "mark": {"type": "rule", "color": "#333", "strokeDash": [2, 2], "strokeWidth": 1}, "encoding": {"x": {"field": "year", "type": "quantitative"}}},
     {"data": {"name": "one"}, "mark": {"type": "rule", "color": "#555", "strokeWidth": 1.2}, "encoding": {"x": {"datum": 500}, "x2": {"datum": 1802}, "y": {"datum": 0}}},
     {"data": {"name": "one"}, "mark": {"type": "text", "text": "Betula", "align": "left", "baseline": "alphabetic", "dy": 1, "fontSize": 18.5, "fontStyle": "italic", "color": "#2a2a2a"}, "encoding": {"x": {"datum": 1816}, "y": {"datum": 0}}},
     {"data": {"name": "one"}, "mark": {"type": "rule", "color": "#444", "strokeWidth": 1.5}, "encoding": {"x": {"datum": 2408}}},
     {"data": {"name": "one"}, "mark": {"type": "rule", "color": "#444", "strokeWidth": 1.5}, "encoding": {"x": {"datum": 2408}, "x2": {"datum": 2481}, "y": {"datum": 5.71}}},
     {"data": {"name": "one"}, "mark": {"type": "rule", "color": "#444", "strokeWidth": 1.5}, "encoding": {"x": {"datum": 2481}, "y": {"datum": 8.33}, "y2": {"datum": 3.1}}},
     {"data": {"name": "one"}, "mark": {"type": "text", "text": "Fen trees", "align": "left", "baseline": "middle", "fontSize": 20, "fontWeight": "bold", "color": "#2878b8"}, "encoding": {"x": {"datum": 2518}, "y": {"datum": 7.1}}},
     {"data": {"name": "one"}, "mark": {"type": "text", "text": "soil saturated with water", "align": "left", "baseline": "middle", "fontSize": 20, "color": "#2a8ac8"}, "encoding": {"x": {"datum": 2518}, "y": {"datum": 4.6}}}
    ]},
   {"width": 346, "height": 94,
    "layer": [
     {"data": {"name": "Alnus"}, "mark": {"type": "area", "opacity": 1, "color": {"gradient": "linear", "x1": 0, "y1": 0, "x2": 1, "y2": 0, "stops": [{"offset": 0, "color": "#8fc4da"}, {"offset": 1, "color": "#0a7fa2"}]}, "line": {"color": "#2a2a2a", "strokeWidth": 1}}, "encoding": {"x": {"field": "year", "type": "quantitative", "scale": {"domain": [500, 1765], "nice": false, "zero": false}, "axis": null}, "y": {"field": "pct", "type": "quantitative", "scale": {"domain": [0, 11.19], "nice": false}, "axis": {"values": [0, 1, 2, 3, 4, 5, 6, 7, 8, 9, 10, 11], "tickCount": 200, "labelExpr": "datum.value == 0 ? '0' : datum.value == 5 ? '5%' : ''", "title": null, "labelOverlap": false, "labelFontSize": 17.5, "labelColor": "#333", "tickSize": 8, "tickColor": "#9a9a9a", "domainColor": "#777", "offset": 5, "labelPadding": 4, "grid": false}}}},
     {"data": {"name": "zones"}, "mark": {"type": "rule", "color": "#333", "strokeDash": [2, 2], "strokeWidth": 1}, "encoding": {"x": {"field": "year", "type": "quantitative"}}},
     {"data": {"name": "one"}, "mark": {"type": "rule", "color": "#555", "strokeWidth": 1.2}, "encoding": {"x": {"datum": 500}, "x2": {"datum": 1802}, "y": {"datum": 0}}},
     {"data": {"name": "one"}, "mark": {"type": "text", "text": "Alnus", "align": "left", "baseline": "alphabetic", "dy": 1, "fontSize": 18.5, "fontStyle": "italic", "color": "#2a2a2a"}, "encoding": {"x": {"datum": 1816}, "y": {"datum": 0}}},
     {"data": {"name": "one"}, "mark": {"type": "rule", "color": "#444", "strokeWidth": 1.2}, "encoding": {"x": {"datum": 2010}, "x2": {"datum": 2423}, "y": {"datum": 0.6}}},
     {"data": {"name": "one"}, "mark": {"type": "rule", "color": "#444", "strokeWidth": 1.5}, "encoding": {"x": {"datum": 2408}, "y": {"datum": 11.19}, "y2": {"datum": 0.6}}},
     {"data": {"name": "one"}, "mark": {"type": "point", "shape": "M0,1L0.8,-1L-0.8,-1Z", "filled": true, "size": 144, "color": "#222", "opacity": 1}, "encoding": {"x": {"datum": 2408}, "y": {"datum": 1.31}}}
    ]},
   {"width": 346, "height": 43,
    "layer": [
     {"data": {"name": "Urticaceae"}, "mark": {"type": "area", "opacity": 1, "color": {"gradient": "linear", "x1": 0, "y1": 0, "x2": 1, "y2": 0, "stops": [{"offset": 0, "color": "#e4f2f6"}, {"offset": 1, "color": "#5fbdd3"}]}, "line": {"color": "#2a2a2a", "strokeWidth": 1}}, "encoding": {"x": {"field": "year", "type": "quantitative", "scale": {"domain": [500, 1765], "nice": false, "zero": false}, "axis": null}, "y": {"field": "pct", "type": "quantitative", "scale": {"domain": [0, 5.119], "nice": false}, "axis": {"values": [0, 1, 2, 3, 4, 5], "tickCount": 200, "labelExpr": "datum.value == 0 ? '0' : ''", "title": null, "labelOverlap": false, "labelFontSize": 17.5, "labelColor": "#333", "tickSize": 8, "tickColor": "#9a9a9a", "domainColor": "#777", "offset": 5, "labelPadding": 4, "grid": false}}}},
     {"data": {"name": "zones"}, "mark": {"type": "rule", "color": "#333", "strokeDash": [2, 2], "strokeWidth": 1}, "encoding": {"x": {"field": "year", "type": "quantitative"}}},
     {"data": {"name": "one"}, "mark": {"type": "rule", "color": "#555", "strokeWidth": 1.2}, "encoding": {"x": {"datum": 500}, "x2": {"datum": 1802}, "y": {"datum": 0}}},
     {"data": {"name": "one"}, "mark": {"type": "text", "text": "Urticaceae", "align": "left", "baseline": "alphabetic", "dy": 1, "fontSize": 18.5, "color": "#2a2a2a"}, "encoding": {"x": {"datum": 1816}, "y": {"datum": 0}}},
     {"data": {"name": "one"}, "mark": {"type": "rule", "color": "#444", "strokeWidth": 1.2}, "encoding": {"x": {"datum": 2152}, "x2": {"datum": 2423}, "y": {"datum": 0.6}}},
     {"data": {"name": "one"}, "mark": {"type": "rule", "color": "#444", "strokeWidth": 1.5}, "encoding": {"x": {"datum": 2408}, "y": {"datum": 0.6}, "y2": {"datum": 0}}},
     {"data": {"name": "one"}, "mark": {"type": "point", "shape": "M0,-1L0.8,1L-0.8,1Z", "filled": true, "size": 144, "color": "#222", "opacity": 1}, "encoding": {"x": {"datum": 2408}, "y": {"datum": -0.11}}}
    ]},
   {"width": 346, "height": 24,
    "layer": [
     {"data": {"name": "Thalictrum"}, "mark": {"type": "area", "opacity": 1, "color": {"gradient": "linear", "x1": 0, "y1": 0, "x2": 1, "y2": 0, "stops": [{"offset": 0, "color": "#e4f2f6"}, {"offset": 1, "color": "#5fbdd3"}]}, "line": {"color": "#2a2a2a", "strokeWidth": 1}}, "encoding": {"x": {"field": "year", "type": "quantitative", "scale": {"domain": [500, 1765], "nice": false, "zero": false}, "axis": null}, "y": {"field": "pct", "type": "quantitative", "scale": {"domain": [0, 2.857], "nice": false}, "axis": {"values": [0, 1, 2], "tickCount": 200, "labelExpr": "datum.value == 0 ? '0' : ''", "title": null, "labelOverlap": false, "labelFontSize": 17.5, "labelColor": "#333", "tickSize": 8, "tickColor": "#9a9a9a", "domainColor": "#777", "offset": 5, "labelPadding": 4, "grid": false}}}},
     {"data": {"name": "zones"}, "mark": {"type": "rule", "color": "#333", "strokeDash": [2, 2], "strokeWidth": 1}, "encoding": {"x": {"field": "year", "type": "quantitative"}}},
     {"data": {"name": "one"}, "mark": {"type": "rule", "color": "#555", "strokeWidth": 1.2}, "encoding": {"x": {"datum": 500}, "x2": {"datum": 1802}, "y": {"datum": 0}}},
     {"data": {"name": "one"}, "mark": {"type": "text", "text": "Thalictrum", "align": "left", "baseline": "alphabetic", "dy": 1, "fontSize": 18.5, "fontStyle": "italic", "color": "#2a2a2a"}, "encoding": {"x": {"datum": 1816}, "y": {"datum": 0}}},
     {"data": {"name": "one"}, "mark": {"type": "rule", "color": "#444", "strokeWidth": 1.5}, "encoding": {"x": {"datum": 2408}}}
    ]},
   {"width": 346, "height": 26,
    "layer": [
     {"data": {"name": "Scrofulariaceae"}, "mark": {"type": "area", "opacity": 1, "color": {"gradient": "linear", "x1": 0, "y1": 0, "x2": 1, "y2": 0, "stops": [{"offset": 0, "color": "#e4f2f6"}, {"offset": 1, "color": "#5fbdd3"}]}, "line": {"color": "#2a2a2a", "strokeWidth": 1}}, "encoding": {"x": {"field": "year", "type": "quantitative", "scale": {"domain": [500, 1765], "nice": false, "zero": false}, "axis": null}, "y": {"field": "pct", "type": "quantitative", "scale": {"domain": [0, 3.095], "nice": false}, "axis": {"values": [0, 1, 2, 3], "tickCount": 200, "labelExpr": "datum.value == 0 ? '0' : ''", "title": null, "labelOverlap": false, "labelFontSize": 17.5, "labelColor": "#333", "tickSize": 8, "tickColor": "#9a9a9a", "domainColor": "#777", "offset": 5, "labelPadding": 4, "grid": false}}}},
     {"data": {"name": "zones"}, "mark": {"type": "rule", "color": "#333", "strokeDash": [2, 2], "strokeWidth": 1}, "encoding": {"x": {"field": "year", "type": "quantitative"}}},
     {"data": {"name": "one"}, "mark": {"type": "rule", "color": "#555", "strokeWidth": 1.2}, "encoding": {"x": {"datum": 500}, "x2": {"datum": 1802}, "y": {"datum": 0}}},
     {"data": {"name": "one"}, "mark": {"type": "text", "text": "Scrofulariaceae", "align": "left", "baseline": "alphabetic", "dy": 1, "fontSize": 18.5, "color": "#2a2a2a"}, "encoding": {"x": {"datum": 1816}, "y": {"datum": 0}}},
     {"data": {"name": "one"}, "mark": {"type": "rule", "color": "#444", "strokeWidth": 1.5}, "encoding": {"x": {"datum": 2408}}}
    ]},
   {"width": 346, "height": 43,
    "layer": [
     {"data": {"name": "Ranunculaceae"}, "mark": {"type": "area", "opacity": 1, "color": {"gradient": "linear", "x1": 0, "y1": 0, "x2": 1, "y2": 0, "stops": [{"offset": 0, "color": "#e4f2f6"}, {"offset": 1, "color": "#5fbdd3"}]}, "line": {"color": "#2a2a2a", "strokeWidth": 1}}, "encoding": {"x": {"field": "year", "type": "quantitative", "scale": {"domain": [500, 1765], "nice": false, "zero": false}, "axis": null}, "y": {"field": "pct", "type": "quantitative", "scale": {"domain": [0, 5.119], "nice": false}, "axis": {"values": [0, 1, 2, 3, 4, 5], "tickCount": 200, "labelExpr": "datum.value == 0 ? '0' : ''", "title": null, "labelOverlap": false, "labelFontSize": 17.5, "labelColor": "#333", "tickSize": 8, "tickColor": "#9a9a9a", "domainColor": "#777", "offset": 5, "labelPadding": 4, "grid": false}}}},
     {"data": {"name": "zones"}, "mark": {"type": "rule", "color": "#333", "strokeDash": [2, 2], "strokeWidth": 1}, "encoding": {"x": {"field": "year", "type": "quantitative"}}},
     {"data": {"name": "one"}, "mark": {"type": "rule", "color": "#555", "strokeWidth": 1.2}, "encoding": {"x": {"datum": 500}, "x2": {"datum": 1802}, "y": {"datum": 0}}},
     {"data": {"name": "one"}, "mark": {"type": "text", "text": "Ranunculaceae", "align": "left", "baseline": "alphabetic", "dy": 1, "fontSize": 18.5, "color": "#2a2a2a"}, "encoding": {"x": {"datum": 1816}, "y": {"datum": 0}}},
     {"data": {"name": "one"}, "mark": {"type": "rule", "color": "#444", "strokeWidth": 1.5}, "encoding": {"x": {"datum": 2408}}}
    ]},
   {"width": 346, "height": 24,
    "layer": [
     {"data": {"name": "Primulaceae"}, "mark": {"type": "area", "opacity": 1, "color": {"gradient": "linear", "x1": 0, "y1": 0, "x2": 1, "y2": 0, "stops": [{"offset": 0, "color": "#e4f2f6"}, {"offset": 1, "color": "#5fbdd3"}]}, "line": {"color": "#2a2a2a", "strokeWidth": 1}}, "encoding": {"x": {"field": "year", "type": "quantitative", "scale": {"domain": [500, 1765], "nice": false, "zero": false}, "axis": null}, "y": {"field": "pct", "type": "quantitative", "scale": {"domain": [0, 2.857], "nice": false}, "axis": {"values": [0, 1, 2], "tickCount": 200, "labelExpr": "datum.value == 0 ? '0' : ''", "title": null, "labelOverlap": false, "labelFontSize": 17.5, "labelColor": "#333", "tickSize": 8, "tickColor": "#9a9a9a", "domainColor": "#777", "offset": 5, "labelPadding": 4, "grid": false}}}},
     {"data": {"name": "zones"}, "mark": {"type": "rule", "color": "#333", "strokeDash": [2, 2], "strokeWidth": 1}, "encoding": {"x": {"field": "year", "type": "quantitative"}}},
     {"data": {"name": "one"}, "mark": {"type": "rule", "color": "#555", "strokeWidth": 1.2}, "encoding": {"x": {"datum": 500}, "x2": {"datum": 1802}, "y": {"datum": 0}}},
     {"data": {"name": "one"}, "mark": {"type": "text", "text": "Primulaceae", "align": "left", "baseline": "alphabetic", "dy": 1, "fontSize": 18.5, "color": "#2a2a2a"}, "encoding": {"x": {"datum": 1816}, "y": {"datum": 0}}},
     {"data": {"name": "one"}, "mark": {"type": "rule", "color": "#444", "strokeWidth": 1.5}, "encoding": {"x": {"datum": 2408}}}
    ]},
   {"width": 346, "height": 128,
    "layer": [
     {"data": {"name": "Poaceae"}, "mark": {"type": "area", "opacity": 1, "color": {"gradient": "linear", "x1": 0, "y1": 0, "x2": 1, "y2": 0, "stops": [{"offset": 0, "color": "#e4f2f6"}, {"offset": 1, "color": "#5fbdd3"}]}, "line": {"color": "#2a2a2a", "strokeWidth": 1}}, "encoding": {"x": {"field": "year", "type": "quantitative", "scale": {"domain": [500, 1765], "nice": false, "zero": false}, "axis": null}, "y": {"field": "pct", "type": "quantitative", "scale": {"domain": [0, 15.238], "nice": false}, "axis": {"values": [0, 1, 2, 3, 4, 5, 6, 7, 8, 9, 10, 11, 12, 13, 14], "tickCount": 200, "labelExpr": "datum.value == 0 ? '0' : datum.value % 5 == 0 ? datum.value + '%' : ''", "title": null, "labelOverlap": false, "labelFontSize": 17.5, "labelColor": "#333", "tickSize": 8, "tickColor": "#9a9a9a", "domainColor": "#777", "offset": 5, "labelPadding": 4, "grid": false}}}},
     {"data": {"name": "zones"}, "mark": {"type": "rule", "color": "#333", "strokeDash": [2, 2], "strokeWidth": 1}, "encoding": {"x": {"field": "year", "type": "quantitative"}}},
     {"data": {"name": "one"}, "mark": {"type": "rule", "color": "#555", "strokeWidth": 1.2}, "encoding": {"x": {"datum": 500}, "x2": {"datum": 1802}, "y": {"datum": 0}}},
     {"data": {"name": "one"}, "mark": {"type": "text", "text": "Poaceae", "align": "left", "baseline": "alphabetic", "dy": 1, "fontSize": 18.5, "color": "#2a2a2a"}, "encoding": {"x": {"datum": 1816}, "y": {"datum": 0}}},
     {"data": {"name": "one"}, "mark": {"type": "rule", "color": "#444", "strokeWidth": 1.5}, "encoding": {"x": {"datum": 2408}}},
     {"data": {"name": "one"}, "mark": {"type": "rule", "color": "#444", "strokeWidth": 1.5}, "encoding": {"x": {"datum": 2408}, "x2": {"datum": 2481}, "y": {"datum": 10.6}}},
     {"data": {"name": "one"}, "mark": {"type": "rule", "color": "#444", "strokeWidth": 1.5}, "encoding": {"x": {"datum": 2481}, "y": {"datum": 13.2}, "y2": {"datum": 7.86}}},
     {"data": {"name": "one"}, "mark": {"type": "text", "text": "Wet meadow", "align": "left", "baseline": "middle", "fontSize": 20, "fontWeight": "bold", "color": "#1b98d6"}, "encoding": {"x": {"datum": 2518}, "y": {"datum": 11.9}}},
     {"data": {"name": "one"}, "mark": {"type": "text", "text": "wet ground", "align": "left", "baseline": "middle", "fontSize": 20, "color": "#3aaee0"}, "encoding": {"x": {"datum": 2518}, "y": {"datum": 9.52}}}
    ]},
   {"width": 346, "height": 76,
    "layer": [
     {"data": {"name": "Campanulaceae"}, "mark": {"type": "area", "opacity": 1, "color": {"gradient": "linear", "x1": 0, "y1": 0, "x2": 1, "y2": 0, "stops": [{"offset": 0, "color": "#e4f2f6"}, {"offset": 1, "color": "#5fbdd3"}]}, "line": {"color": "#2a2a2a", "strokeWidth": 1}}, "encoding": {"x": {"field": "year", "type": "quantitative", "scale": {"domain": [500, 1765], "nice": false, "zero": false}, "axis": {"values": [500,520,540,560,580,600,620,640,660,680,700,720,740,760,780,800,820,840,860,880,900,920,940,960,980,1000,1020,1040,1060,1080,1100,1120,1140,1160,1180,1200,1220,1240,1260,1280,1300,1320,1340,1360,1380,1400,1420,1440,1460,1480,1500,1520,1540,1560,1580,1600,1620,1640,1660,1680,1700,1720,1740,1760], "tickCount": 200, "format": "d", "labelExpr": "(datum.value - 500) % 200 == 0 ? datum.label : ''", "title": "Year AD", "labelOverlap": false, "labelFlush": false, "labelFontSize": 19, "labelColor": "#333", "tickSize": 5, "tickColor": "#666", "domainColor": "#666", "offset": 9, "labelPadding": 6, "titleFontSize": 19, "titleFontWeight": "bold", "titleColor": "#333", "titlePadding": 4, "grid": false}}, "y": {"field": "pct", "type": "quantitative", "scale": {"domain": [0, 9.048], "nice": false}, "axis": {"values": [0, 1, 2, 3, 4, 5, 6, 7, 8, 9], "tickCount": 200, "labelExpr": "datum.value == 0 ? '0' : datum.value == 5 ? '5%' : ''", "title": null, "labelOverlap": false, "labelFontSize": 17.5, "labelColor": "#333", "tickSize": 8, "tickColor": "#9a9a9a", "domainColor": "#777", "offset": 5, "labelPadding": 4, "grid": false}}}},
     {"data": {"name": "zones"}, "mark": {"type": "rule", "color": "#333", "strokeDash": [2, 2], "strokeWidth": 1}, "encoding": {"x": {"field": "year", "type": "quantitative"}}},
     {"data": {"name": "one"}, "mark": {"type": "rule", "color": "#555", "strokeWidth": 1.2}, "encoding": {"x": {"datum": 500}, "x2": {"datum": 1802}, "y": {"datum": 0}}},
     {"data": {"name": "one"}, "mark": {"type": "text", "text": "Campanulaceae", "align": "left", "baseline": "alphabetic", "dy": 1, "fontSize": 18.5, "color": "#2a2a2a"}, "encoding": {"x": {"datum": 1816}, "y": {"datum": 0}}},
     {"data": {"name": "one"}, "mark": {"type": "rule", "color": "#444", "strokeWidth": 1.2}, "encoding": {"x": {"datum": 2321}, "x2": {"datum": 2423}, "y": {"datum": 0.6}}},
     {"data": {"name": "one"}, "mark": {"type": "rule", "color": "#444", "strokeWidth": 1.5}, "encoding": {"x": {"datum": 2408}, "y": {"datum": 9.048}, "y2": {"datum": 0.6}}},
     {"data": {"name": "one"}, "mark": {"type": "point", "shape": "M0,1L0.8,-1L-0.8,-1Z", "filled": true, "size": 144, "color": "#222", "opacity": 1}, "encoding": {"x": {"datum": 2408}, "y": {"datum": 1.31}}}
    ]}
  ]
 }
]
}
